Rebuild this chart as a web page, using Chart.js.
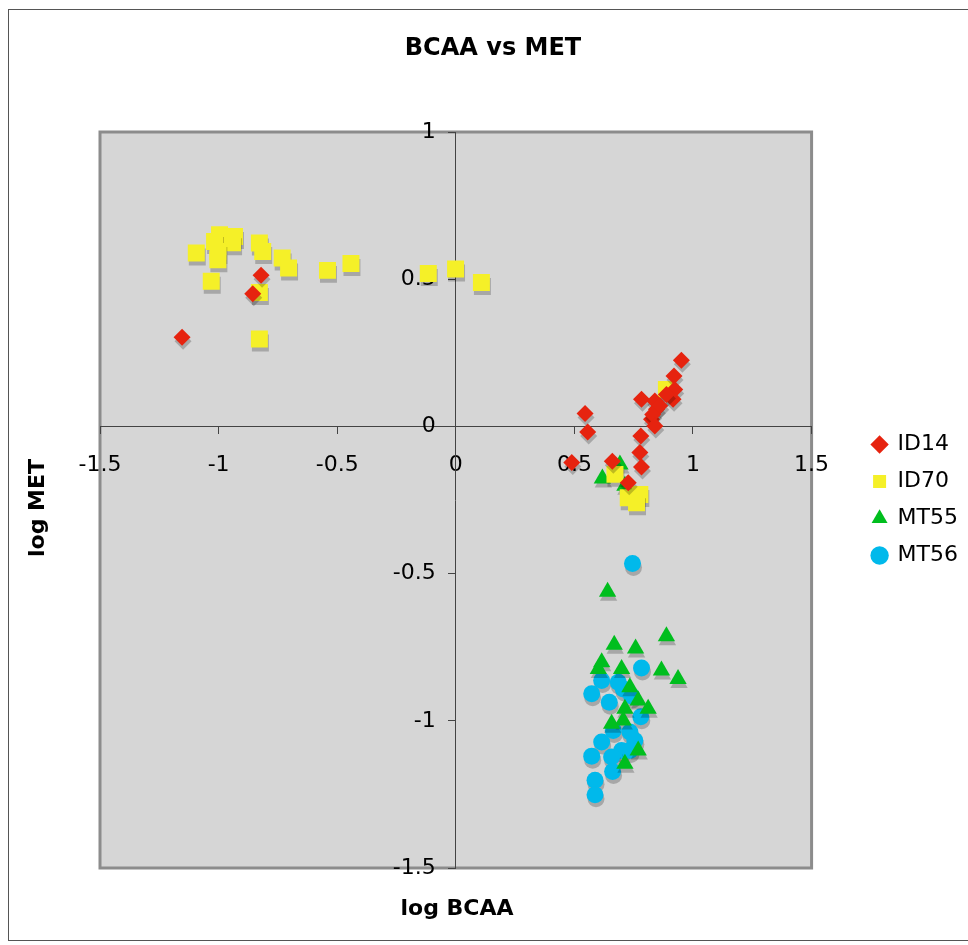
<!DOCTYPE html>
<html>
<head>
<meta charset="utf-8">
<title>BCAA vs MET</title>
<script src="https://cdn.jsdelivr.net/npm/chart.js@4.4.1/dist/chart.umd.min.js"></script>
<style>
    html, body { margin: 0; padding: 0; background: #ffffff; }
    canvas { display: block; }
</style>
</head>
<body>
<canvas id="Chart_BCAA_MET" width="968" height="945"></canvas>
<script>
// series names
var seriesNames = ['ID14', 'ID70', 'MT55', 'MT56'];

// log BCAA / log MET
var id14X = [-0.821, -0.856, -1.154, 0.951, 0.920, 0.923, 0.916, 0.888, 0.783, 0.839, 0.846, 0.860, 0.825, 0.830, 0.839,
    0.545, 0.556, 0.780, 0.776, 0.783, 0.489, 0.660, 0.727];
var id14Y = [0.513, 0.451, 0.303, 0.225, 0.171, 0.125, 0.092, 0.108, 0.092, 0.086, 0.058, 0.070, 0.024, 0.040, 0.001,
    0.044, -0.019, -0.033, -0.089, -0.138, -0.123, -0.118, -0.191];

var id70X = [-1.094, -0.996, -1.017, -0.933, -0.941, -1.003, -1.003, -1.031, -0.828, -0.814, -0.732, -0.705, -0.541, -0.442,
    -0.116, -0.001, 0.108, -0.828, -0.828, 0.888, 0.671, 0.727, 0.776, 0.762];
var id70Y = [0.589, 0.651, 0.628, 0.645, 0.624, 0.594, 0.566, 0.493, 0.623, 0.594, 0.572, 0.538, 0.530, 0.553,
    0.519, 0.535, 0.489, 0.455, 0.297, 0.125, -0.163, -0.242, -0.231, -0.259];

var mt55X = [0.692, 0.618, 0.713, 0.640, 0.888, 0.668, 0.758, 0.615, 0.601, 0.699, 0.867, 0.937, 0.734, 0.769,
    0.713, 0.811, 0.706, 0.657, 0.769, 0.713];
var mt55Y = [-0.129, -0.177, -0.202, -0.562, -0.713, -0.742, -0.754, -0.801, -0.824, -0.824, -0.829, -0.858, -0.886, -0.931,
    -0.959, -0.959, -0.999, -1.010, -1.101, -1.146];

var mt56X = [0.745, 0.783, 0.615, 0.685, 0.706, 0.573, 0.741, 0.647, 0.780, 0.664, 0.734, 0.755, 0.615, 0.699,
    0.734, 0.657, 0.573, 0.661, 0.587, 0.587];
var mt56Y = [-0.466, -0.821, -0.863, -0.869, -0.892, -0.908, -0.916, -0.937, -0.986, -1.033, -1.038, -1.067, -1.072, -1.101,
    -1.101, -1.123, -1.120, -1.172, -1.202, -1.251];

// axis ticks
var xTicks = [-1.5, -1, -0.5, 0, 0.5, 1, 1.5];
var yTicks = [-1.5, -1, -0.5, 0, 0.5, 1];

function toPoints(xs, ys) {
    return xs.map(function (x, i) {
        return { x: x, y: ys[i] };
    });
}

// nền xám + khung, tiêu đề, tên trục
const framePlugin = {
    id: 'excel_frame',
    beforeDraw: (chart) => {
        const ctx = chart.ctx;
        const a = chart.chartArea;
        ctx.save();
        ctx.fillStyle = '#ffffff';
        ctx.fillRect(0, 0, chart.width, chart.height);
        ctx.strokeStyle = '#555555';
        ctx.lineWidth = 1;
        ctx.strokeRect(8.5, 9.5, chart.width, 931);
        ctx.fillStyle = '#d6d6d6';
        ctx.fillRect(a.left, a.top, a.right - a.left, a.bottom - a.top);
        ctx.strokeStyle = '#8c8c8c';
        ctx.lineWidth = 3;
        ctx.strokeRect(a.left, a.top, a.right - a.left, a.bottom - a.top);
        ctx.restore();

        // nhãn trục y nằm bên trái đường trục (lệch tick + padding)
        const yScale = chart.scales.y;
        const shift = yScale.options.grid.tickLength + yScale.options.ticks.padding;
        yScale.getLabelItems(chart.chartArea).forEach(function (item) {
            if (!item._shifted) {
                item.options.translation[0] -= shift;
                item._shifted = true;
            }
        });
    },
    afterDraw: (chart) => {
        const ctx = chart.ctx;
        ctx.save();
        ctx.fillStyle = '#000000';
        ctx.textAlign = 'center';
        ctx.textBaseline = 'middle';
        ctx.font = 'bold 24px "DejaVu Sans"';
        ctx.fillText('BCAA vs MET', 493, 49);
        ctx.font = 'bold 22px "DejaVu Sans"';
        ctx.fillText('log BCAA', 457, 909);
        ctx.translate(38, 508);
        ctx.rotate(-Math.PI / 2);
        ctx.fillText('log MET', 0, 0);
        ctx.restore();
    }
};

// bóng đổ dưới các điểm
const shadowPlugin = {
    id: 'marker_shadow',
    beforeDatasetsDraw: (chart) => {
        const ctx = chart.ctx;
        ctx.save();
        ctx.shadowColor = 'rgba(0, 0, 0, 0.22)';
        ctx.shadowBlur = 0;
        ctx.shadowOffsetX = 1;
        ctx.shadowOffsetY = 4;
    },
    afterDatasetsDraw: (chart) => {
        chart.ctx.restore();
    }
};

var axisGrid = {
    display: true,
    drawOnChartArea: false,
    drawTicks: true,
    tickLength: 7,
    color: '#444444',
    lineWidth: 1
};

function tickText(value) {
    return String(value);
}

var ctx1 = document.getElementById('Chart_BCAA_MET');
var Chart_BCAA_MET = new Chart(ctx1, {
    type: 'scatter',
    data: {
        datasets: [{
            label: seriesNames[0],
            data: toPoints(id14X, id14Y),
            pointStyle: 'rectRot',
            pointRadius: 8.5,
            backgroundColor: 'rgb(230, 35, 15)',
            borderWidth: 0
        }, {
            label: seriesNames[1],
            data: toPoints(id70X, id70Y),
            pointStyle: 'rect',
            pointRadius: 12,
            backgroundColor: 'rgb(245, 240, 40)',
            borderWidth: 0
        }, {
            label: seriesNames[2],
            data: toPoints(mt55X, mt55Y),
            pointStyle: 'triangle',
            pointRadius: 10,
            backgroundColor: 'rgb(0, 190, 30)',
            borderWidth: 0
        }, {
            label: seriesNames[3],
            data: toPoints(mt56X, mt56Y),
            pointStyle: 'circle',
            pointRadius: 8.5,
            backgroundColor: 'rgb(0, 185, 235)',
            borderWidth: 0
        }]
    },
    options: {
        responsive: false,
        animation: false,
        devicePixelRatio: 1,
        layout: {
            padding: {
                left: 100,
                right: 0,
                top: 132,
                bottom: 77
            }
        },
        plugins: {
            title: { display: false },
            tooltip: { enabled: false },
            legend: {
                position: 'right',
                fullSize: false,
                labels: {
                    usePointStyle: true,
                    boxWidth: 14,
                    boxHeight: 13,
                    padding: 15,
                    color: '#000000',
                    font: {
                        family: 'DejaVu Sans',
                        size: 22
                    }
                }
            }
        },
        scales: {
            x: {
                type: 'linear',
                min: -1.5,
                max: 1.5,
                position: { y: 0 },
                afterBuildTicks: (scale) => {
                    scale.ticks = xTicks.map(function (v) { return { value: v }; });
                },
                grid: axisGrid,
                border: { display: true, color: '#444444', width: 1 },
                ticks: {
                    color: '#000000',
                    padding: 19,
                    maxRotation: 0,
                    autoSkip: false,
                    callback: tickText,
                    font: {
                        family: 'DejaVu Sans',
                        size: 22
                    }
                }
            },
            y: {
                type: 'linear',
                min: -1.5,
                max: 1,
                position: { x: 0 },
                afterBuildTicks: (scale) => {
                    scale.ticks = yTicks.map(function (v) { return { value: v }; });
                },
                grid: axisGrid,
                border: { display: true, color: '#444444', width: 1 },
                ticks: {
                    color: '#000000',
                    padding: 13,
                    autoSkip: false,
                    callback: tickText,
                    font: {
                        family: 'DejaVu Sans',
                        size: 22
                    }
                }
            },
            // trục giả để chừa khoảng trống giữa vùng vẽ và chú thích
            gap: {
                type: 'linear',
                axis: 'y',
                position: 'right',
                display: true,
                grid: { display: false },
                border: { display: false },
                ticks: { display: false },
                afterFit: (scale) => {
                    scale.width = 46;
                }
            }
        }
    },
    plugins: [framePlugin, shadowPlugin]
});
</script>
</body>
</html>
